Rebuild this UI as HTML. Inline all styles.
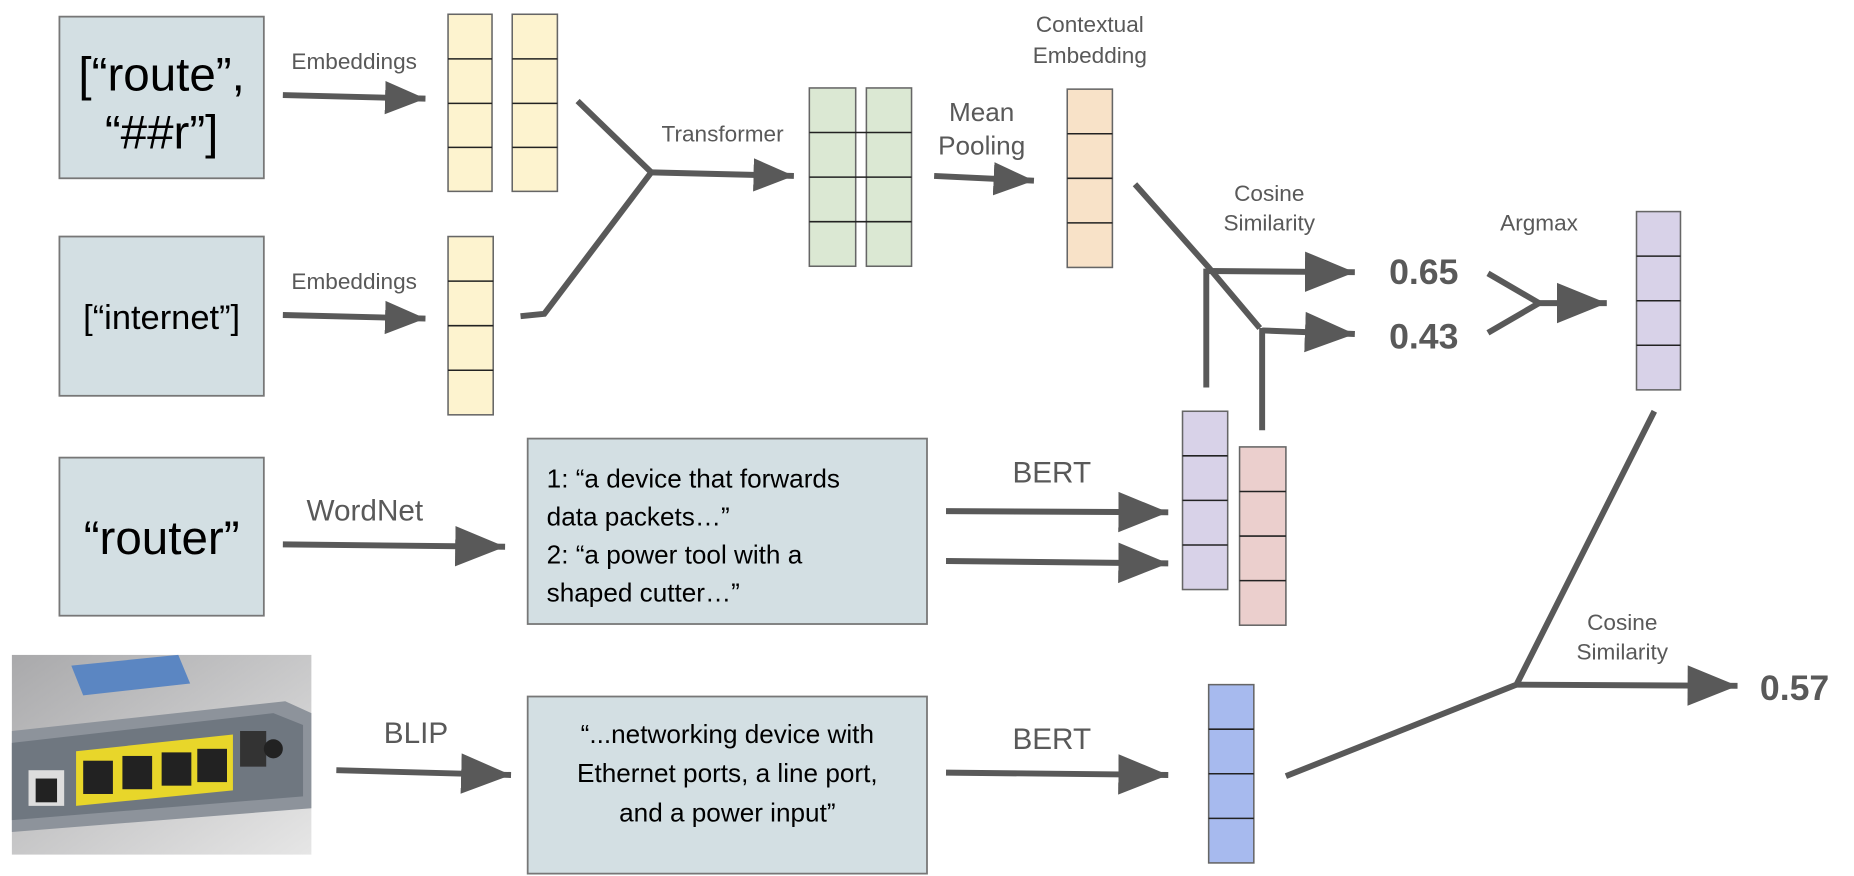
<!DOCTYPE html>
<html><head><meta charset="utf-8"><style>html,body{margin:0;padding:0;background:#fff;}svg{display:block}</style></head>
<body>
<svg width="1854" height="876" viewBox="0 0 1560 737" preserveAspectRatio="none" xmlns="http://www.w3.org/2000/svg" font-family="Liberation Sans, sans-serif">
<defs>
<marker id="a" markerUnits="userSpaceOnUse" markerWidth="44" markerHeight="40" refX="42" refY="20" orient="auto">
<polygon points="0,3 42,20 0,37" fill="#595959"/></marker>
<marker id="s" markerUnits="userSpaceOnUse" markerWidth="36" markerHeight="34" refX="34" refY="17" orient="auto">
<polygon points="0,3 34,17 0,31" fill="#595959"/></marker>
<linearGradient id="bg" x1="0" y1="0" x2="1" y2="1"><stop offset="0" stop-color="#a9a9ab"/><stop offset="1" stop-color="#e6e6e6"/></linearGradient>
</defs>
<g fill="#d3dfe3" stroke="#777" stroke-width="1.5">
<rect x="50" y="14" width="172" height="136"/>
<rect x="50" y="199" width="172" height="134"/>
<rect x="50" y="385" width="172" height="133"/>
<rect x="444" y="369" width="336" height="156"/>
<rect x="444" y="586" width="336" height="149"/>
</g>
<g fill="#000" text-anchor="middle">
<text x="136" y="76" font-size="40">[“route”,</text>
<text x="136" y="125" font-size="40">“##r”]</text>
<text x="136" y="277" font-size="29">[“internet”]</text>
<text x="136" y="466" font-size="40">“router”</text>
</g>
<g font-size="22" fill="#000">
<text x="460" y="410">1: “a device that forwards</text>
<text x="460" y="442">data packets…”</text>
<text x="460" y="474">2: “a power tool with a</text>
<text x="460" y="506">shaped cutter…”</text>
<text x="612" y="625" text-anchor="middle">“...networking device with</text>
<text x="612" y="658" text-anchor="middle">Ethernet ports, a line port,</text>
<text x="612" y="691" text-anchor="middle">and a power input”</text>
</g>
<!-- image -->
<rect x="10" y="551" width="252" height="168" fill="url(#bg)"/>
<polygon points="10,615 240,590 262,600 262,680 10,700" fill="#8d939b"/>
<polygon points="10,625 230,600 255,610 255,670 10,690" fill="#6f7780"/>
<polygon points="60,560 150,551 160,575 70,585" fill="#5b86c2"/>
<polygon points="64,632 196,618 196,665 64,678" fill="#e8d62a"/>
<g fill="#222"><rect x="70" y="640" width="25" height="28"/><rect x="103" y="636" width="25" height="28"/><rect x="136" y="633" width="25" height="28"/><rect x="166" y="630" width="25" height="28"/><rect x="24" y="648" width="30" height="30" fill="#ddd"/><rect x="30" y="655" width="18" height="20"/><rect x="202" y="615" width="22" height="30" fill="#333"/></g>
<circle cx="230" cy="630" r="8" fill="#222"/>
<!-- columns -->
<g stroke="#666" stroke-width="1.3">
<g fill="#fdf3cf">
<rect x="377" y="12" width="37" height="149"/><rect x="431" y="12" width="38" height="149"/>
<rect x="377" y="199" width="38" height="150"/></g>
<g fill="#dbe8d3"><rect x="681" y="74" width="39" height="150"/><rect x="729" y="74" width="38" height="150"/></g>
<rect x="898" y="75" width="38" height="150" fill="#f8e2c8"/>
<g fill="#d8d2e8"><rect x="1377" y="178" width="37" height="150"/><rect x="995" y="346" width="38" height="150"/></g>
<rect x="1043" y="376" width="39" height="150" fill="#ebcfcd"/>
<rect x="1017" y="576" width="38" height="150" fill="#a7baee"/>
</g>
<g stroke="#222" stroke-width="1.3">
<path d="M377,49.5h37M377,87h37M377,124h37M431,49.5h38M431,87h38M431,124h38M377,236.5h38M377,274h38M377,311.5h38M681,111.5h86M681,149h86M681,186.5h86M898,112.5h38M898,150h38M898,187.5h38M1377,215.5h37M1377,253h37M1377,290.5h37M995,383.5h38M995,421h38M995,458.5h38M1043,413.5h39M1043,451h39M1043,488.5h39M1017,613.5h38M1017,651h38M1017,688.5h38"/>
</g>
<!-- lines -->
<g stroke="#595959" stroke-width="5" fill="none" stroke-linecap="butt">
<line x1="238" y1="80" x2="358" y2="83" marker-end="url(#s)"/>
<line x1="238" y1="265" x2="358" y2="268" marker-end="url(#s)"/>
<polyline points="486,85 548,145 458,264 438,266"/>
<line x1="548" y1="145" x2="668" y2="148" marker-end="url(#s)"/>
<line x1="786" y1="148" x2="870" y2="152" marker-end="url(#s)"/>
<polyline points="955,155 1017,225 1060,276"/>
<line x1="1017" y1="228" x2="1140" y2="229" marker-end="url(#a)"/>
<line x1="1062" y1="278" x2="1140" y2="281" marker-end="url(#a)"/>
<line x1="1015" y1="226" x2="1015" y2="326"/>
<line x1="1062" y1="276" x2="1062" y2="362"/>
<polyline points="1252,230 1295,255 1252,280"/>
<line x1="1293" y1="255" x2="1352" y2="255" marker-end="url(#a)"/>
<polyline points="1392,346 1276,576 1082,653"/>
<line x1="1276" y1="576" x2="1462" y2="577" marker-end="url(#a)"/>
<line x1="238" y1="458" x2="425" y2="460" marker-end="url(#a)"/>
<line x1="796" y1="430" x2="983" y2="431" marker-end="url(#a)"/>
<line x1="796" y1="472" x2="983" y2="474" marker-end="url(#a)"/>
<line x1="283" y1="648" x2="430" y2="652" marker-end="url(#a)"/>
<line x1="796" y1="650" x2="983" y2="652" marker-end="url(#a)"/>
</g>
<g fill="#595959" text-anchor="middle" font-size="19">
<text x="298" y="58">Embeddings</text>
<text x="298" y="243">Embeddings</text>
<text x="608" y="119">Transformer</text>
<text x="917" y="27">Contextual</text>
<text x="917" y="53">Embedding</text>
<text x="1068" y="169">Cosine</text>
<text x="1068" y="194">Similarity</text>
<text x="1295" y="194">Argmax</text>
<text x="1365" y="530">Cosine</text>
<text x="1365" y="555">Similarity</text>
<text x="826" y="102" font-size="22">Mean</text>
<text x="826" y="130" font-size="22">Pooling</text>
<text x="307" y="438" font-size="25">WordNet</text>
<text x="885" y="406" font-size="25">BERT</text>
<text x="885" y="630" font-size="25">BERT</text>
<text x="350" y="625" font-size="25">BLIP</text>
<g font-weight="bold" font-size="30"><text x="1198" y="239">0.65</text><text x="1198" y="293">0.43</text><text x="1510" y="589">0.57</text></g>
</g>
</svg>
</body></html>
